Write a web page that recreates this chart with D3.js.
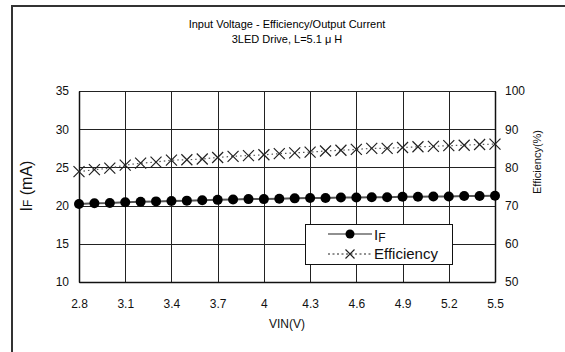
<!DOCTYPE html>
<html>
<head>
<meta charset="utf-8">
<script src="https://cdn.jsdelivr.net/npm/d3@7"></script>
<style>
  html, body { margin: 0; padding: 0; background: #fff; }
  svg { display: block; font-family: "Liberation Sans", Arial, sans-serif; }
</style>
</head>
<body>
<svg id="chart" width="565" height="352"></svg>
<script>
// Input voltage sweep (V), 0.1 V steps
const vin = [2.8, 2.9, 3.0, 3.1, 3.2, 3.3, 3.4, 3.5, 3.6, 3.7,
             3.8, 3.9, 4.0, 4.1, 4.2, 4.3, 4.4, 4.5, 4.6, 4.7,
             4.8, 4.9, 5.0, 5.1, 5.2, 5.3, 5.4, 5.5];
// LED forward current (mA)
const ifCurrent = [20.2, 20.3, 20.35, 20.45, 20.5, 20.55, 20.6, 20.65, 20.7, 20.75,
                   20.8, 20.85, 20.85, 20.9, 20.95, 21.0, 21.0, 21.05, 21.05, 21.1,
                   21.1, 21.15, 21.15, 21.2, 21.2, 21.25, 21.25, 21.3];
// Conversion efficiency (%)
const efficiency = [78.9, 79.4, 79.8, 80.6, 81.1, 81.4, 81.9, 82.0, 82.2, 82.6,
                    82.9, 83.1, 83.3, 83.6, 83.8, 84.0, 84.3, 84.5, 84.7, 85.0,
                    85.0, 85.2, 85.4, 85.5, 85.7, 85.8, 86.0, 86.1];
// Axis ticks
const xTicks = [2.8, 3.1, 3.4, 3.7, 4.0, 4.3, 4.6, 4.9, 5.2, 5.5];
const yLeftTicks = [10, 15, 20, 25, 30, 35];
const yRightTicks = [50, 60, 70, 80, 90, 100];

const svg = d3.select("#chart");
const plot = { left: 79, right: 495, top: 91, bottom: 282 };

const x = d3.scaleLinear().domain([2.8, 5.5]).range([plot.left, plot.right]);
const yL = d3.scaleLinear().domain([10, 35]).range([plot.bottom, plot.top]);
const yR = d3.scaleLinear().domain([50, 100]).range([plot.bottom, plot.top]);

// Outer frame (runs past the lower-right edge of the view)
svg.append("rect")
  .attr("x", 12).attr("y", 6).attr("width", 600).attr("height", 400)
  .attr("fill", "none").attr("stroke", "#333").attr("stroke-width", 2);

// Title
const title = svg.append("text")
  .attr("text-anchor", "middle").attr("font-size", 11).attr("fill", "#000");
title.append("tspan").attr("x", 287).attr("y", 28).text("Input Voltage - Efficiency/Output Current");
title.append("tspan").attr("x", 287).attr("y", 43).text("3LED Drive, L=5.1 \u03BC H");

// Grid
const grid = svg.append("g").attr("stroke", "#222").attr("stroke-width", 1);
grid.selectAll("line.v").data(xTicks).join("line")
  .attr("x1", d => Math.round(x(d)) + 0.5).attr("x2", d => Math.round(x(d)) + 0.5)
  .attr("y1", plot.top).attr("y2", plot.bottom);
grid.selectAll("line.h").data(yLeftTicks).join("line")
  .attr("y1", d => Math.round(yL(d)) + 0.5).attr("y2", d => Math.round(yL(d)) + 0.5)
  .attr("x1", plot.left).attr("x2", plot.right);

// Axes (left, bottom, right)
const axisLeft = d3.axisLeft(yL).tickValues(yLeftTicks).tickSize(0).tickPadding(10);
const axisBottom = d3.axisBottom(x).tickValues(xTicks).tickSize(0).tickPadding(17)
  .tickFormat(d => d3.format("")(+d.toFixed(1)));
const axisRight = d3.axisRight(yR).tickValues(yRightTicks).tickSize(0).tickPadding(10);

function styleAxis(g) {
  g.select(".domain").attr("stroke", "#111").attr("stroke-width", 1.5);
  g.selectAll("text").attr("font-size", 12).attr("fill", "#111")
    .attr("font-family", "\"Liberation Sans\", Arial, sans-serif");
}
svg.append("g").attr("transform", `translate(${plot.left},0)`).call(axisLeft).call(styleAxis);
svg.append("g").attr("transform", `translate(0,${plot.bottom})`).call(axisBottom).call(styleAxis);
svg.append("g").attr("transform", `translate(${plot.right},0)`).call(axisRight).call(styleAxis);

// Axis titles
const yLabel = svg.append("text")
  .attr("transform", "translate(32,186) rotate(-90)")
  .attr("text-anchor", "middle").attr("font-size", 16).attr("fill", "#111");
yLabel.append("tspan").text("I");
yLabel.append("tspan").attr("font-size", 12).text("F");
yLabel.append("tspan").text(" (mA)");

svg.append("text")
  .attr("transform", "translate(541,162) rotate(-90)")
  .attr("text-anchor", "middle").attr("font-size", 11).attr("fill", "#111")
  .text("Efficiency(%)");

svg.append("text")
  .attr("x", 287).attr("y", 328)
  .attr("text-anchor", "middle").attr("font-size", 12).attr("fill", "#111")
  .text("VIN(V)");

// Cross marker path centred at 0,0
const crossPath = s => `M${-s},${-s}L${s},${s}M${-s},${s}L${s},${-s}`;

// Efficiency series: dotted line with crosses
svg.append("path")
  .datum(vin.map((v, i) => [v, efficiency[i]]))
  .attr("fill", "none").attr("stroke", "#555").attr("stroke-width", 1.2)
  .attr("stroke-dasharray", "1.5,3")
  .attr("d", d3.line().x(d => x(d[0])).y(d => yR(d[1])));
svg.append("g").selectAll("path").data(vin).join("path")
  .attr("transform", (d, i) => `translate(${x(d)},${yR(efficiency[i])})`)
  .attr("d", crossPath(5.5))
  .attr("fill", "none").attr("stroke", "#222").attr("stroke-width", 1.2);

// IF series: solid line with filled circles
svg.append("path")
  .datum(vin.map((v, i) => [v, ifCurrent[i]]))
  .attr("fill", "none").attr("stroke", "#555").attr("stroke-width", 2)
  .attr("d", d3.line().x(d => x(d[0])).y(d => yL(d[1])));
svg.append("g").selectAll("circle").data(vin).join("circle")
  .attr("cx", d => x(d)).attr("cy", (d, i) => yL(ifCurrent[i]))
  .attr("r", 5).attr("fill", "#000");

// Legend
const legend = svg.append("g");
legend.append("rect")
  .attr("x", 305.5).attr("y", 224.5).attr("width", 147).attr("height", 40)
  .attr("fill", "#fff").attr("stroke", "#111").attr("stroke-width", 1);
legend.append("line")
  .attr("x1", 328).attr("x2", 372).attr("y1", 234).attr("y2", 234)
  .attr("stroke", "#222").attr("stroke-width", 1.2);
legend.append("circle").attr("cx", 350).attr("cy", 234).attr("r", 4.5).attr("fill", "#000");
const lt1 = legend.append("text").attr("x", 374).attr("y", 240).attr("font-size", 15).attr("fill", "#111");
lt1.append("tspan").text("I");
lt1.append("tspan").attr("font-size", 12).attr("dy", 2).text("F");

legend.append("line")
  .attr("x1", 328).attr("x2", 372).attr("y1", 254).attr("y2", 254)
  .attr("stroke", "#222").attr("stroke-width", 1).attr("stroke-dasharray", "2,2.5");
legend.append("path")
  .attr("transform", "translate(350,254)")
  .attr("d", crossPath(4.5))
  .attr("fill", "#fff").attr("stroke", "#222").attr("stroke-width", 1.2);
legend.append("text").attr("x", 374).attr("y", 259).attr("font-size", 15).attr("fill", "#111")
  .text("Efficiency");
</script>
</body>
</html>
